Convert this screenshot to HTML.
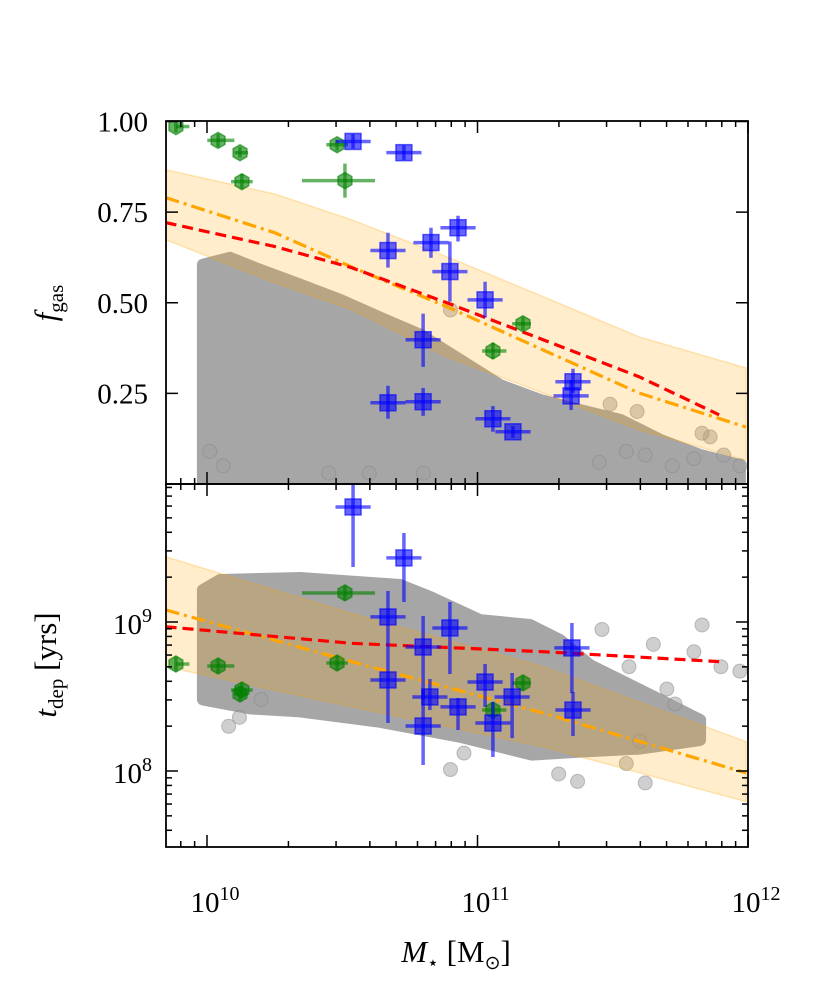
<!DOCTYPE html>
<html><head><meta charset="utf-8"><style>
html,body{margin:0;padding:0;background:#fff;}
svg{display:block;font-family:"Liberation Serif",serif;}
</style></head><body>
<svg id="chart" width="830" height="997" viewBox="0 0 830 997" xmlns="http://www.w3.org/2000/svg">
<rect x="0" y="0" width="830" height="997" fill="#fff"/>
<g id="top"></g>
<g id="bot"></g>
<g id="axes"></g>
<text transform="translate(56,303) rotate(-90)" text-anchor="middle" font-size="31"><tspan font-style="italic">f</tspan><tspan font-size="21" dy="7">gas</tspan></text>
<text transform="translate(56,665) rotate(-90)" text-anchor="middle" font-size="31"><tspan font-style="italic">t</tspan><tspan font-size="21" dy="7">dep</tspan><tspan dy="-7"> [yrs]</tspan></text>
<text x="456" y="962" text-anchor="middle" font-size="31"><tspan font-style="italic">M</tspan><tspan font-size="19" dy="7">⋆</tspan><tspan dy="-7"> [M</tspan><tspan font-size="19" dy="7">⊙</tspan><tspan dy="-7">]</tspan></text>
</svg>
<script>
// ---- data (log10 M*, values) ----
const blueTopM=[10.540,10.728,10.669,10.828,10.928,10.898,11.028,10.799,10.669,10.799,11.057,11.131,11.353,11.346];
const blueTopF=[0.945,0.914,0.644,0.666,0.707,0.586,0.508,0.398,0.224,0.227,0.180,0.144,0.282,0.243];
const blueTopLo=[0.925,0.894,0.597,0.624,0.669,0.503,0.459,0.323,0.180,0.188,0.144,0.127,0.251,0.204];
const blueTopHi=[0.965,0.934,0.693,0.707,0.740,0.669,0.558,0.470,0.271,0.265,0.215,0.160,0.318,0.287];
const greenTopM=[9.885,10.041,10.122,10.129,10.481,10.510,11.168,11.057];
const greenTopF=[0.986,0.948,0.914,0.834,0.936,0.837,0.442,0.367];
const greenXLo=[9.885,10.001,10.102,10.089,10.441,10.351,11.128,11.017];
const greenXHi=[9.935,10.101,10.152,10.169,10.521,10.621,11.198,11.107];
const greenTopLo=[0.97,0.93,0.90,0.815,0.92,0.790,0.425,0.345];
const greenTopHi=[1.0,0.965,0.93,0.855,0.95,0.884,0.46,0.39];
const blueBotM=[10.540,10.728,10.669,10.669,10.799,10.799,10.898,10.824,10.928,11.028,11.128,11.057,11.349,11.353];
const blueBotT=[9.772,9.430,9.034,8.611,8.832,8.302,8.960,8.497,8.430,8.597,8.497,8.322,8.826,8.409];
const blueBotLo=[9.369,9.134,8.779,8.322,8.477,8.040,8.651,8.409,8.275,8.430,8.221,8.094,8.523,8.235];
const blueBotHi=[9.933,9.597,9.208,8.779,9.040,8.544,9.134,8.617,8.490,8.718,8.658,8.463,8.993,8.530];
const greenBotM=[9.885,10.041,10.122,10.129,10.481,10.510,11.168,11.057];
const greenBotT=[8.718,8.705,8.517,8.544,8.725,9.195,8.591,8.409];
const modelM=[9.847,10.251,10.534,10.887,11.242,11.597,11.993];
const orangeF=[0.790,0.693,0.599,0.489,0.370,0.251,0.157];
const bandHiF=[0.867,0.800,0.729,0.627,0.517,0.406,0.320];
const bandLoF=[0.674,0.555,0.481,0.351,0.251,0.149,0.066];
const redM=[9.847,10.251,10.534,10.887,11.242,11.597,11.893];
const redF=[0.721,0.655,0.597,0.500,0.398,0.296,0.191];
const bModelM=[9.847,10.534,11.242,11.993];
const orangeT=[9.081,8.734,8.389,7.987];
const bandHiT=[9.438,9.058,8.700,8.197];
const bandLoT=[8.700,8.432,8.163,7.794];
const redBM=[9.847,10.534,11.242,11.893];
const redT=[8.968,8.857,8.801,8.734];
const cloudTopM=[9.985,10.085,10.196,10.344,10.492,10.640,10.787,10.935,11.083,11.231,11.379,11.527,11.675,11.823,11.970,11.97,9.985];
const cloudTopF=[0.605,0.624,0.591,0.550,0.508,0.459,0.412,0.343,0.273,0.232,0.204,0.177,0.122,0.080,0.052,0.0,0.0];
const cloudBotM=[9.985,10.048,10.344,10.713,10.824,11.009,11.194,11.305,11.416,11.527,11.675,11.823,11.823,11.601,11.379,11.200,10.935,10.640,10.344,10.159,9.985];
const cloudBotT=[9.215,9.282,9.295,9.248,9.168,9.013,8.980,8.879,8.711,8.611,8.477,8.342,8.208,8.150,8.130,8.110,8.230,8.330,8.400,8.420,8.480];
const outTopM=[11.97,11.86,11.80,11.72,11.62,11.55,11.45,10.06,10.01,10.45,10.60,10.80,10.90,11.49,11.59,11.83,11.91];
const outTopF=[0.05,0.13,0.07,0.05,0.08,0.09,0.06,0.05,0.09,0.03,0.03,0.03,0.48,0.22,0.20,0.14,0.08];
const outBotM=[11.83,11.90,11.80,11.65,11.70,11.46,11.56,11.73,11.97,11.60,10.20,10.12,10.95,11.62,11.55,10.08,10.90,11.30,11.37];
const outBotT=[8.98,8.70,8.80,8.85,8.55,8.95,8.70,8.45,8.67,8.20,8.48,8.36,8.12,7.92,8.05,8.30,8.01,7.98,7.93];

// ---- axes ----
const X0=166,X1=748;
const xs=m=>207+(m-10)*270.5;
const TY0=121,TY1=484,BY0=484,BY1=847;
const yT=f=>484-f*362.5;
const yB=t=>622-(t-9)*149;
const NS="http://www.w3.org/2000/svg";
function mk(parent,tag,attrs){const e=document.createElementNS(NS,tag);for(const k in attrs)e.setAttribute(k,attrs[k]);parent.appendChild(e);return e;}
const topG=document.getElementById('top'),botG=document.getElementById('bot'),axesG=document.getElementById('axes');
mk(document.getElementById('chart'),'defs',{}).innerHTML='<clipPath id="ct"><rect x="166" y="121" width="582" height="363"/></clipPath><clipPath id="cb"><rect x="166" y="484" width="582" height="363"/></clipPath>';
topG.setAttribute('clip-path','url(#ct)');botG.setAttribute('clip-path','url(#cb)');
const pts=(M,V,fy)=>M.map((m,i)=>xs(m).toFixed(1)+','+fy(V[i]).toFixed(1)).join(' ');

function panel(g,fy,cM,cV,oM,oV,bandM,bHi,bLo,oranM,oran,rM,rV){
  let c=mk(g,'polygon',{points:pts(cM,cV,fy),fill:'#a6a6a6',stroke:'#a6a6a6','stroke-width':12,'stroke-linejoin':'round'});
  
  
  oM.forEach((m,i)=>{const e=mk(g,'circle',{cx:xs(m),cy:fy(oV[i]),r:7,fill:'#a0a0a0','fill-opacity':0.5,stroke:'#888','stroke-opacity':0.5});
    
    });
  const band=pts(bandM,bHi,fy)+' '+pts(bandM.slice().reverse(),bLo.slice().reverse(),fy);
  let b=mk(g,'polygon',{points:band,fill:'#ffa500','fill-opacity':0.2,stroke:'#ffa500','stroke-opacity':0.25,'stroke-width':1.5});
  
  
  let o=mk(g,'polyline',{points:pts(oranM,oran,fy),fill:'none',stroke:'#ffa500','stroke-width':3.2,'stroke-dasharray':'14,5,3,5'});
  
  
  let r=mk(g,'polyline',{points:pts(rM,rV,fy),fill:'none',stroke:'#ff0000','stroke-width':3.2,'stroke-dasharray':'11,6'});
  
  
}
panel(topG,yT,cloudTopM,cloudTopF,outTopM,outTopF,modelM,bandHiF,bandLoF,modelM,orangeF,redM,redF);
panel(botG,yB,cloudBotM,cloudBotT,outBotM,outBotT,bModelM,bandHiT,bandLoT,bModelM,orangeT,redBM,redT);

function blue(g,M,V,Lo,Hi,fy){
  M.forEach((m,i)=>{const x=xs(m),y=fy(V[i]);
    const e=mk(g,'g',{});
    
    
    mk(e,'line',{x1:x,x2:x,y1:fy(Hi[i]),y2:fy(Lo[i]),stroke:'#0000ff','stroke-opacity':0.6,'stroke-width':3.5});
    mk(e,'line',{x1:xs(m-0.065),x2:xs(m+0.065),y1:y,y2:y,stroke:'#0000ff','stroke-opacity':0.6,'stroke-width':3.5});
    mk(e,'rect',{x:x-8,y:y-8,width:16,height:16,fill:'#0000ff','fill-opacity':0.6,stroke:'#0000ff','stroke-opacity':0.6,'stroke-width':1.5});
  });
}
function hexPts(x,y,r){let s=[];for(let k=0;k<6;k++){const a=Math.PI/6+k*Math.PI/3;s.push((x+r*Math.cos(a)).toFixed(1)+','+(y+r*Math.sin(a)).toFixed(1));}return s.join(' ');}
function green(g,M,V,Lo,Hi,fy){
  M.forEach((m,i)=>{const x=xs(m),y=fy(V[i]);
    const e=mk(g,'g',{});
    
    
    mk(e,'line',{x1:x,x2:x,y1:fy(Hi[i]),y2:fy(Lo[i]),stroke:'#008000','stroke-opacity':0.6,'stroke-width':3.5});
    mk(e,'line',{x1:xs(greenXLo[i]),x2:xs(greenXHi[i]),y1:y,y2:y,stroke:'#008000','stroke-opacity':0.6,'stroke-width':3.5});
    mk(e,'polygon',{points:hexPts(x,y,8),fill:'#008000','fill-opacity':0.6,stroke:'#008000','stroke-opacity':0.6,'stroke-width':1.5});
  });
}
green(topG,greenTopM,greenTopF,greenTopLo,greenTopHi,yT);
blue(topG,blueTopM,blueTopF,blueTopLo,blueTopHi,yT);
green(botG,greenBotM,greenBotT,greenBotT.map(t=>t-0.05),greenBotT.map(t=>t+0.05),yB);
blue(botG,blueBotM,blueBotT,blueBotLo,blueBotHi,yB);

// ---- frames and ticks ----
const xMajor=[10,11,12];
const xMajorLabels=['10','11','12'];
const fTicks=[0.25,0.5,0.75,1.0];
const fLabels=['0.25','0.50','0.75','1.00'];
const tMajor=[8,9];
const tLabels=['8','9'];
function line(x1,y1,x2,y2,w){return mk(axesG,'line',{x1,y1,x2,y2,stroke:'#000','stroke-width':w||1.5});}
[[TY0,TY1],[BY0,BY1]].forEach(([a,b],pi)=>{
  const r=mk(axesG,'rect',{x:X0,y:a,width:X1-X0,height:b-a,fill:'none',stroke:'#000','stroke-width':1.8});
  
  
  for(let d=9;d<12;d++)for(let k=1;k<10;k++){const m=d+Math.log10(k);const x=xs(m);if(x<X0-0.5||x>X1+0.5)continue;
    const L=k===1?12:6;line(x,a,x,a+L);line(x,b,x,b-L);}
  const x=xs(12);line(x,a,x,a+12);line(x,b,x,b-12);
});
fTicks.forEach((f,i)=>{const y=yT(f);line(X0,y,X0+12,y);line(X1,y,X1-12,y);
  const t=mk(axesG,'text',{x:X0-18,y:y+10,'text-anchor':'end','font-size':29});t.textContent=fLabels[i];
  
  });
for(let d=7;d<10;d++)for(let k=1;k<10;k++){const y=yB(d+Math.log10(k));if(y<BY0||y>BY1)continue;const L=k===1?12:6;line(X0,y,X0+L,y);line(X1,y,X1-L,y);}
tMajor.forEach((t,i)=>{const y=yB(t);
  const e=mk(axesG,'text',{x:X0-14,y:y+12,'text-anchor':'end','font-size':29});
  e.innerHTML='10<tspan font-size="20" dy="-12">'+tLabels[i]+'</tspan>';
  
  });
xMajor.forEach((m,i)=>{const x=xs(m);
  const e=mk(axesG,'text',{x:x+8,y:912,'text-anchor':'middle','font-size':29});
  e.innerHTML='10<tspan font-size="20" dy="-12">'+xMajorLabels[i]+'</tspan>';
  
  });
</script>
</body></html>
